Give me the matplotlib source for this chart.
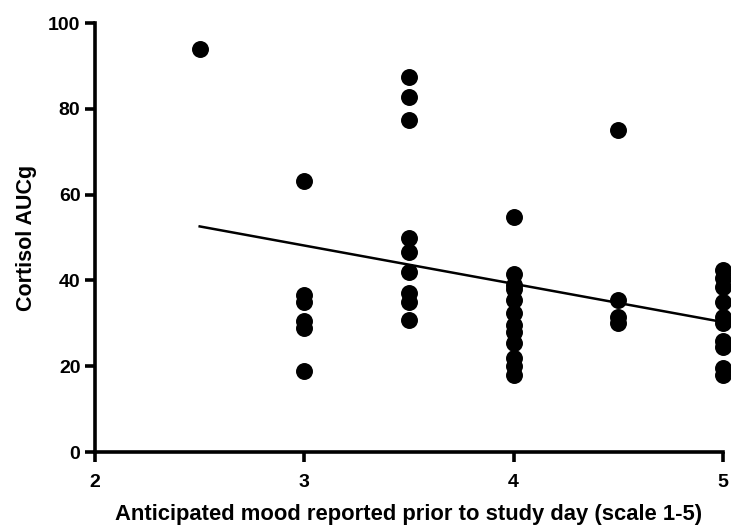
import numpy as np
import matplotlib.pyplot as plt

plt.rcParams['font.family'] = ['Liberation Sans', 'DejaVu Sans']

# anticipated mood (x) and cortisol AUCg (y)
mood = [2.5,
        3, 3, 3, 3, 3, 3,
        3.5, 3.5, 3.5, 3.5, 3.5, 3.5, 3.5, 3.5, 3.5,
        4, 4, 4, 4, 4, 4, 4, 4, 4, 4, 4, 4,
        4.5, 4.5, 4.5, 4.5,
        5, 5, 5, 5, 5, 5, 5, 5, 5, 5]
cortisol = [94,
            63.2, 36.5, 35, 30.5, 28.8, 18.9,
            87.4, 82.8, 77.4, 49.9, 46.6, 42, 37, 35, 30.8,
            54.7, 41.5, 39, 38, 35.5, 32.5, 29.5, 28, 25.5, 22, 20, 18,
            75, 35.4, 31.5, 30,
            42.5, 40.5, 38.5, 35, 31.5, 30, 26, 24.5, 19.5, 18]

# regression line end points
fit_x = [2.5, 5]
fit_y = [52.6, 30.3]

fig = plt.figure(figsize=(7.31, 5.25), dpi=100)
ax = fig.add_axes([0.13, 0.139, 0.859, 0.817])

ax.scatter(mood, cortisol, s=125, color='black', clip_on=False, zorder=3)
ax.plot(fit_x, fit_y, color='black', lw=1.8, zorder=2)

ax.set_xlim(2, 5)
ax.set_ylim(0, 100)
ax.set_xticks([2, 3, 4, 5])
ax.set_yticks([0, 20, 40, 60, 80, 100])

for s in ['top', 'right']:
    ax.spines[s].set_visible(False)
for s in ['left', 'bottom']:
    ax.spines[s].set_linewidth(2.6)
ax.tick_params(width=2.6, length=7.5, labelsize=14)
ax.tick_params(axis='x', pad=8)
ax.tick_params(axis='y', pad=3)
for lab in ax.get_xticklabels() + ax.get_yticklabels():
    lab.set_fontweight('bold')

ax.set_xlabel('Anticipated mood reported prior to study day (scale 1-5)',
              fontsize=15.8, fontweight='bold', labelpad=10)
ax.set_ylabel('Cortisol AUCg', fontsize=15.5, fontweight='bold', labelpad=8)

fig.savefig('out.png', dpi=100)
